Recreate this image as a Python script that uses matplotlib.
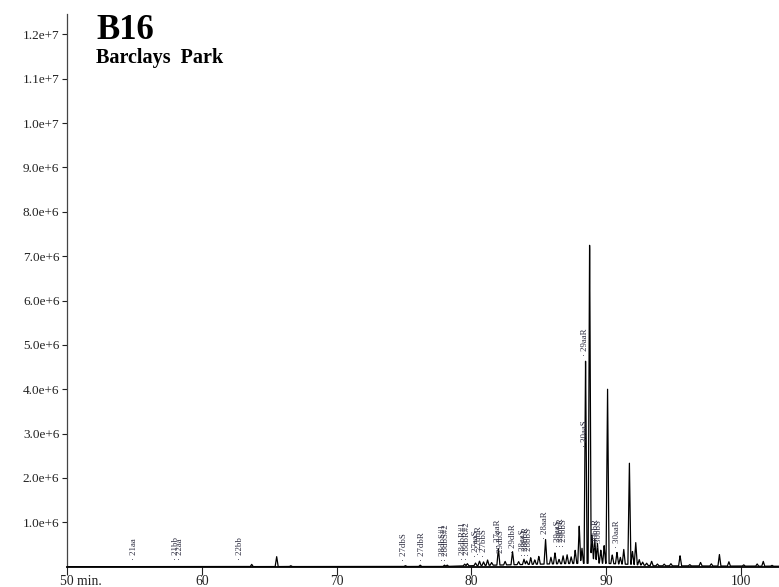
import numpy as np
import matplotlib
matplotlib.use('Agg')
import matplotlib.pyplot as plt
import matplotlib.transforms as mtransforms

# peak list: retention time (min) and height (counts / 1e6)
peak_times = [63.7, 65.55, 66.6, 75.1, 76.2, 78.0, 78.2, 79.5, 79.7,
              80.3, 80.6, 80.9, 81.2, 81.5, 82.0, 82.5, 83.05, 83.5,
              83.9, 84.1, 84.4, 84.7, 85.0, 85.5, 85.9, 86.2, 86.5,
              86.8, 87.1, 87.4, 87.7, 88.0, 88.2, 88.47, 88.77, 88.95,
              89.15, 89.35, 89.6, 89.85, 90.1, 90.45, 90.8, 91.05, 91.3,
              91.72, 91.95, 92.19, 92.45, 92.7, 93.0, 93.37, 93.8, 94.3,
              94.8, 95.48, 96.2, 97.0, 97.8, 98.4, 99.1, 100.2, 101.2,
              101.65, 102.3]
peak_heights = [0.05, 0.23, 0.02, 0.02, 0.03, 0.03, 0.03, 0.04, 0.05,
                0.06, 0.1, 0.08, 0.12, 0.06, 0.38, 0.08, 0.30, 0.07,
                0.12, 0.08, 0.15, 0.1, 0.18, 0.56, 0.15, 0.25, 0.1,
                0.18, 0.2, 0.15, 0.3, 0.86, 0.35, 4.61, 7.34, 0.65,
                0.55, 0.45, 0.3, 0.4, 3.99, 0.2, 0.26, 0.15, 0.34,
                2.31, 0.3, 0.51, 0.12, 0.07, 0.05, 0.1, 0.04, 0.04,
                0.05, 0.23, 0.03, 0.08, 0.05, 0.26, 0.1, 0.03, 0.05,
                0.11, 0.02]

# slowly varying baseline under the trace
base_times = [49.9, 78.0, 81.0, 84.0, 87.0, 89.5, 92.0, 93.5, 103.0]
base_levels = [0.0, 0.005, 0.03, 0.05, 0.07, 0.08, 0.05, 0.02, 0.01]

# peak annotations: name, time, height of the dot (1e6)
label_names = ['21aa', '21bb', '22aa', '22bb', '27dbS', '27dbR',
               '28dbS#1', '28dbS#2', '28dbR#1', '28dbR#2',
               '27aaS', '27bbR', '27bbS', '27aaR', '29dbS', '29dbR',
               '28aaS', '28bbR', '28bbS', '28aaR',
               '29aaS', '29bbR', '29bbS', '29aaR', '30aaS',
               '30bbR', '30bbS', '30aaR']
label_times = [55.0, 58.1, 58.35, 62.8, 75.0, 76.3,
               77.9, 78.15, 79.4, 79.65,
               80.35, 80.6, 80.9, 81.95, 82.2, 83.05,
               83.85, 84.05, 84.3, 85.45,
               86.4, 86.65, 86.9, 88.45, 88.4,
               89.25, 89.45, 90.8]
label_levels = [0.15, 0.15, 0.15, 0.15, 0.13, 0.13,
                0.13, 0.13, 0.15, 0.15,
                0.22, 0.27, 0.22, 0.45, 0.2, 0.32,
                0.25, 0.25, 0.25, 0.62,
                0.45, 0.45, 0.45, 4.75, 2.7,
                0.42, 0.42, 0.42]

y_ticks = [1e6 * k for k in range(1, 13)]
y_tick_labels = ['1.0e+6', '2.0e+6', '3.0e+6', '4.0e+6', '5.0e+6', '6.0e+6',
                 '7.0e+6', '8.0e+6', '9.0e+6', '1.0e+7', '1.1e+7', '1.2e+7']
x_ticks = [50, 60, 70, 80, 90, 100]
x_tick_labels = ['50 min.', '60', '70', '80', '90', '100']

plt.rcParams['font.family'] = ['Liberation Serif', 'DejaVu Serif']

# build the trace: baseline plus narrow triangular peaks
t = np.linspace(49.9, 103.0, 8000)
signal = np.interp(t, base_times, base_levels)
width = 0.11
for pt, ph in zip(peak_times, peak_heights):
    signal += np.interp(t, [pt - width, pt, pt + width], [0, ph, 0], left=0, right=0)
signal *= 1e6

fig = plt.figure(figsize=(7.79, 5.87), dpi=100)
W, H = 779.0, 587.0
ax = fig.add_axes([66.5 / W, 1 - 566.7 / H, (W - 66.5) / W, (566.7 - 14) / H])

ax.plot(t, signal, color='black', linewidth=0.9)

for name, lt, lv in zip(label_names, label_times, label_levels):
    ax.text(lt, lv * 1e6, '\u00b7 ' + name, rotation=90, ha='left', va='center',
            rotation_mode='anchor', fontsize=6.3, color='#2d2d40')

ax.set_xlim(49.96, 102.82)
ax.set_ylim(0, 12.46e6)

for s in ['top', 'right']:
    ax.spines[s].set_visible(False)
ax.spines['left'].set_color('#444444')
ax.spines['left'].set_linewidth(0.9)
ax.spines['bottom'].set_color('black')
ax.spines['bottom'].set_linewidth(1.3)

ax.set_yticks(y_ticks)
ax.set_yticklabels(y_tick_labels)
ax.set_xticks(x_ticks)
ax.set_xticklabels(x_tick_labels)
ax.tick_params(axis='y', direction='out', length=3.6, width=0.8, pad=1.5,
               labelsize=9.5, colors='#222222')
ax.tick_params(axis='x', direction='out', length=5.5, width=0.8, pad=0.5,
               labelsize=9.8, colors='#222222')

first = ax.get_xticklabels()[0]
first.set_ha('left')
first.set_transform(first.get_transform() +
                    mtransforms.ScaledTranslation(-7 / 100, 0, fig.dpi_scale_trans))

fig.text(96 / W, 1 - 39.3 / H, 'B16', fontsize=25, fontweight='bold',
         ha='left', va='baseline')
fig.text(96 / W, 1 - 62.5 / H, 'Barclays  Park', fontsize=14.5, fontweight='bold',
         ha='left', va='baseline')

fig.savefig('out.png', dpi=100)
